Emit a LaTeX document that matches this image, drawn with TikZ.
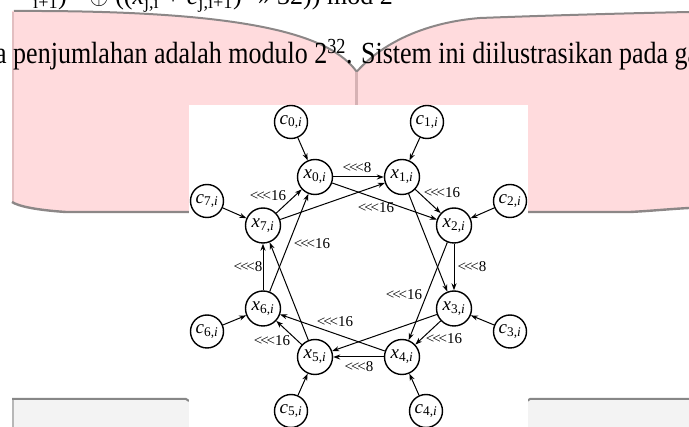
\documentclass[tikz,border=0pt]{standalone}
\usepackage{fontspec}
\setmainfont{Liberation Serif}
\usetikzlibrary{arrows.meta}
\definecolor{pinkc}{RGB}{255,219,221}
\definecolor{pinkedge}{RGB}{226,190,192}
\definecolor{seam}{RGB}{214,178,180}
\definecolor{barfill}{RGB}{243,243,243}
\definecolor{barline}{RGB}{135,135,135}
\definecolor{curlgray}{RGB}{140,135,135}
\begin{document}
\begin{tikzpicture}[x=1pt,y=-1pt,
  xn/.style={circle,draw,line width=1.4pt,minimum size=35pt,inner sep=0pt,fill=white,font=\fontsize{19}{19}\selectfont},
  cn/.style={circle,draw,line width=1.4pt,minimum size=33pt,inner sep=0pt,fill=white,font=\fontsize{19}{19}\selectfont},
  arr/.style={line width=1pt,-{Stealth[length=7pt,width=5pt]}},
  lbl/.style={font=\fontsize{15}{15}\selectfont,inner sep=0pt},
  body/.style={font=\fontsize{26}{30}\selectfont,inner sep=0pt}]
\useasboundingbox (0,0) rectangle (689,427);
% pink page regions
\fill[pinkc] (12,11) .. controls (250,10) and (330,35) .. (356.7,71.7)
  -- (356.7,212) -- (66,212) .. controls (35,210) and (18,206) .. (12,202) -- cycle;
\fill[pinkc] (356.7,71.7) .. controls (385,40) and (430,22) .. (480,18)
  .. controls (560,15) and (640,13) .. (689,12) -- (689,208) .. controls (670,209) and (650,211) .. (630,212) -- (356.7,212) -- cycle;
% curl shading lines
\draw[curlgray,line width=2pt] (14,11) .. controls (250,10) and (330,35) .. (356.7,71.7);
\draw[curlgray,line width=2pt] (356.7,71.7) .. controls (385,40) and (430,22) .. (480,18)
  .. controls (560,15) and (640,13) .. (689,12);
\draw[pinkedge,line width=2.5pt] (13.2,12) -- (13.2,202);
\draw[curlgray,line width=2.4pt] (12,202) .. controls (18,206) and (35,210) .. (66,212) -- (190,212);
\draw[curlgray,line width=2.4pt] (527,212) -- (630,212) .. controls (650,211) and (670,209) .. (689,208);
\draw[seam,line width=2.5pt] (356.7,71.7) -- (356.7,106);
% bottom bars
\fill[barfill] (12,399) rectangle (190,427);
\fill[barfill] (527,399) rectangle (689,427);
\draw[barline!60,line width=1.2pt] (13,400) -- (13,427);
\draw[barline,line width=2pt] (12,399) -- (186,399) -- (189,401);
\draw[barline,line width=2pt] (527,401) -- (530,399) -- (689,399);
% text lines
\node[body,anchor=base east] (topline) at (393,5)
  {\textsubscript{i+1})\textsuperscript{2}~ $\oplus$ ((\textit{x}\textsubscript{j,i} + \textit{c}\textsubscript{j,i+1})\textsuperscript{2} >> 32)) mod 2};
\node[body,anchor=base west] (line2) at (-5,64)
  {\scalebox{1}[1.18]{a penjumlahan adalah modulo 2\textsuperscript{32}. Sistem ini diilustrasikan pada gambar}};
% diagram panel
\fill[white] (189,105) rectangle (528,427);
\node[xn] (x0) at (315,177) {\textit{x}\textsubscript{0,\textit{i}}};
\node[xn] (x1) at (402,177) {\textit{x}\textsubscript{1,\textit{i}}};
\node[xn] (x2) at (454,225.5) {\textit{x}\textsubscript{2,\textit{i}}};
\node[xn] (x3) at (454,308.5) {\textit{x}\textsubscript{3,\textit{i}}};
\node[xn] (x4) at (402,357) {\textit{x}\textsubscript{4,\textit{i}}};
\node[xn] (x5) at (315,357) {\textit{x}\textsubscript{5,\textit{i}}};
\node[xn] (x6) at (263,308.5) {\textit{x}\textsubscript{6,\textit{i}}};
\node[xn] (x7) at (263,225.5) {\textit{x}\textsubscript{7,\textit{i}}};
\node[cn] (c0) at (291,122) {\textit{c}\textsubscript{0,\textit{i}}};
\node[cn] (c1) at (427,122) {\textit{c}\textsubscript{1,\textit{i}}};
\node[cn] (c2) at (510,201) {\textit{c}\textsubscript{2,\textit{i}}};
\node[cn] (c3) at (510,331.5) {\textit{c}\textsubscript{3,\textit{i}}};
\node[cn] (c4) at (426,411) {\textit{c}\textsubscript{4,\textit{i}}};
\node[cn] (c5) at (291,411) {\textit{c}\textsubscript{5,\textit{i}}};
\node[cn] (c6) at (207,331.5) {\textit{c}\textsubscript{6,\textit{i}}};
\node[cn] (c7) at (207,201) {\textit{c}\textsubscript{7,\textit{i}}};
\foreach \k in {0,...,7} {\draw[arr] (c\k) -- (x\k);}
\draw[arr] (x0) -- (x1);
\draw[arr] (x7) -- (x1);
\draw[arr] (x7) -- (x0);
\draw[arr] (x6) -- (x0);
\draw[arr] (x1) -- (x2);
\draw[arr] (x0) -- (x2);
\draw[arr] (x2) -- (x3);
\draw[arr] (x1) -- (x3);
\draw[arr] (x2) -- (x4);
\draw[arr] (x3) -- (x4);
\draw[arr] (x4) -- (x5);
\draw[arr] (x3) -- (x5);
\draw[arr] (x4) -- (x6);
\draw[arr] (x5) -- (x6);
\draw[arr] (x6) -- (x7);
\draw[arr] (x5) -- (x7);
\node[lbl] (l01) at (357,168) {<\kern-2pt<\kern-2pt<8};
\node[lbl] (l70) at (268,196) {<\kern-2pt<\kern-2pt<16};
\node[lbl] (l12) at (442,193) {<\kern-2pt<\kern-2pt<16};
\node[lbl] (l02) at (376,208) {<\kern-2pt<\kern-2pt<16};
\node[lbl] (l60) at (312,244) {<\kern-2pt<\kern-2pt<16};
\node[lbl] (l67) at (248,267) {<\kern-2pt<\kern-2pt<8};
\node[lbl] (l23) at (472,267) {<\kern-2pt<\kern-2pt<8};
\node[lbl] (l24) at (404,295) {<\kern-2pt<\kern-2pt<16};
\node[lbl] (l34) at (444,339) {<\kern-2pt<\kern-2pt<16};
\node[lbl] (l46) at (335,322) {<\kern-2pt<\kern-2pt<16};
\node[lbl] (l56) at (272,341) {<\kern-2pt<\kern-2pt<16};
\node[lbl] (l45) at (359,367) {<\kern-2pt<\kern-2pt<8};
\end{tikzpicture}
\end{document}
